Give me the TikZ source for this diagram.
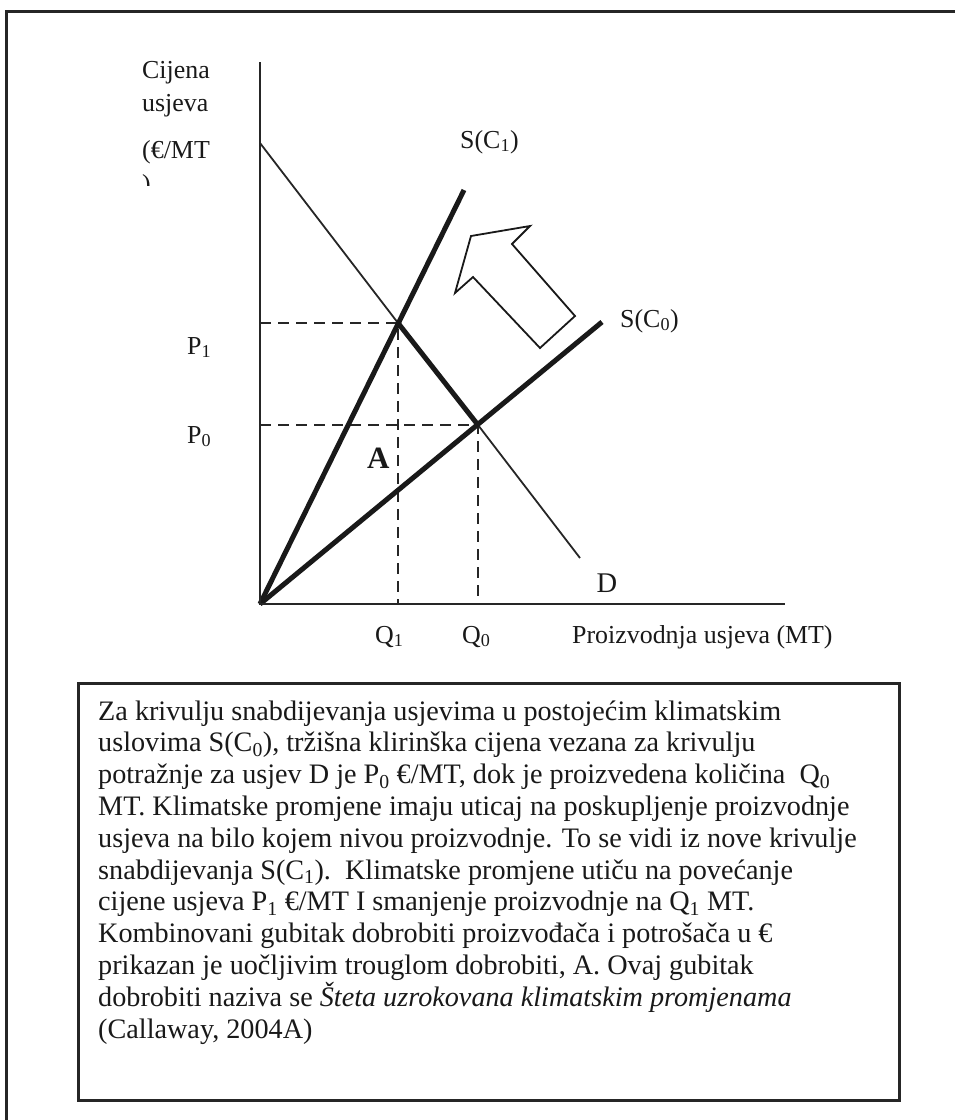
\documentclass[tikz,border=0pt]{standalone}
\usepackage{fontspec}
\setmainfont{Liberation Serif}
\begin{document}
\begin{tikzpicture}[x=1pt,y=-1pt,
  frame/.style={line width=3pt, draw=black!85},
  axis/.style={line width=2pt, draw=black!85},
  thincurve/.style={line width=1.8pt, draw=black!85},
  thickcurve/.style={line width=5pt, draw=black!90},
  guide/.style={line width=1.8pt, draw=black!85, dash pattern=on 11pt off 7pt},
  shiftarrow/.style={line width=1.8pt, draw=black!90, line join=miter},
  lbl/.style={font=\fontsize{25.9}{30}\selectfont, inner sep=0pt, text=black!90},
  boxtext/.style={font=\fontsize{28.2}{31.8}\selectfont, inner sep=0pt, align=left, text=black!90},
]
\useasboundingbox (0,0) rectangle (955,1120);

% outer frame, open towards the right and the bottom
\draw[frame] (6,1120) -- (6,11) -- (955,11);

% key points of the market diagram
\coordinate (O) at (260,604);
\coordinate (ytop) at (260,62);
\coordinate (xend) at (785,604);
\coordinate (Dtop) at (260,143);
\coordinate (E1) at (398,323);
\coordinate (E0) at (478,425);
\coordinate (Dend) at (580,558);
\coordinate (S1end) at (464,190);
\coordinate (S0end) at (602,322);
\coordinate (P1y) at (260,323);
\coordinate (P0y) at (260,425);
\coordinate (Q1x) at (398,604);
\coordinate (Q0x) at (478,604);

% guides to the axes
\draw[guide] (P1y) -- (E1) -- (Q1x);
\draw[guide] (P0y) -- (E0) -- (Q0x);

% demand curve, thick between the two equilibria
\draw[thincurve] (Dtop) -- (E1);
\draw[thincurve] (E0) -- (Dend);
\draw[thickcurve] (E1) -- (E0);

% supply curves
\draw[thickcurve] (O) -- (S1end);
\draw[thickcurve] (O) -- (S0end);

% axes
\draw[axis] (ytop) -- (O) -- (xend);

% hollow arrow for the shift of supply
\draw[shiftarrow] (471,236) -- (530,226) -- (512,244) -- (575,316)
  -- (540,348) -- (473,277) -- (455,293) -- cycle;

% axis labels
\node[lbl, anchor=base west] (ylab1) at (142,78) {Cijena};
\node[lbl, anchor=base west] (ylab2) at (142,111) {usjeva};
\node[lbl, anchor=base west] (ylab3) at (142,158) {(€/MT};
\begin{scope}
  \clip (130,166) rectangle (180,185);
  \node[lbl, anchor=base west] (ylab4) at (142,192) {)};
\end{scope}
\node[lbl, anchor=base west] (xlab) at (572,643) {Proizvodnja usjeva (MT)};

% value labels
\node[lbl, anchor=base west] (p1) at (187,354) {P\textsubscript{1}};
\node[lbl, anchor=base west] (p0) at (187,443) {P\textsubscript{0}};
\node[lbl, anchor=base west] (q1) at (375,643) {Q\textsubscript{1}};
\node[lbl, anchor=base west] (q0) at (462,643) {Q\textsubscript{0}};
\node[lbl, anchor=base west, font=\fontsize{31}{34}\selectfont\bfseries] (areaA) at (367,468) {A};

% curve labels
\node[lbl, anchor=base, font=\fontsize{28.5}{32}\selectfont] (labD) at (607,592) {D};
\node[lbl, anchor=base west] (labS1) at (460,148) {S(C\textsubscript{1})};
\node[lbl, anchor=base west] (labS0) at (620,327) {S(C\textsubscript{0})};

% explanatory text box (anchored on the baseline of its last line)
\draw[frame] (78,683) rectangle (899,1100);
\node[boxtext, anchor=base west] (caption) at (98,1038) {%
Za krivulju snabdijevanja usjevima u postojećim klimatskim\\
uslovima S(C\textsubscript{0}), tržišna klirinška cijena vezana za krivulju\\
potražnje za usjev D je P\textsubscript{0} €/MT, dok je proizvedena količina\ \ Q\textsubscript{0}\\
MT. Klimatske promjene imaju uticaj na poskupljenje proizvodnje\\
usjeva na bilo kojem nivou proizvodnje. To se vidi iz nove krivulje\\
snabdijevanja S(C\textsubscript{1}).\ \ Klimatske promjene utiču na povećanje\\
cijene usjeva P\textsubscript{1} €/MT I smanjenje proizvodnje na Q\textsubscript{1} MT.\\
Kombinovani gubitak dobrobiti proizvođača i potrošača u €\\
prikazan je uočljivim trouglom dobrobiti, A. Ovaj gubitak\\
dobrobiti naziva se \textit{Šteta uzrokovana klimatskim promjenama}\\
(Callaway, 2004A)};
\end{tikzpicture}
\end{document}
